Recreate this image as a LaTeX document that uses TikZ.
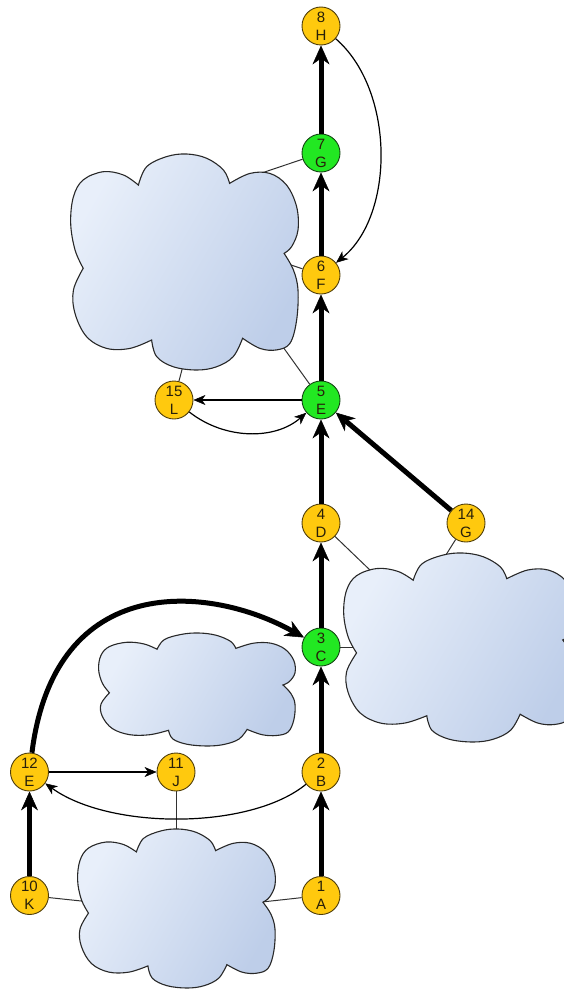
\documentclass[tikz,border=0pt]{standalone}
\usepackage{fontspec}
\setmainfont{Liberation Sans}
\usetikzlibrary{arrows.meta}
\definecolor{nodeY}{RGB}{255,201,14}
\definecolor{nodeYd}{RGB}{80,62,10}
\definecolor{nodeG}{RGB}{34,232,34}
\definecolor{nodeGd}{RGB}{20,70,20}
\definecolor{txtc}{RGB}{40,32,10}
\definecolor{cloudA}{RGB}{232,239,250}
\definecolor{cloudB}{RGB}{190,206,233}
\definecolor{cloudline}{RGB}{40,40,40}
\definecolor{linkc}{RGB}{50,50,50}
\newcommand{\ndfont}{\fontsize{15pt}{18pt}\selectfont}
\pgfdeclarelayer{bg}
\pgfsetlayers{bg,main}
\newcommand{\drawcloud}[4]{%
 \begin{scope}[shift={(#1,#2)},xscale=#3,yscale=#4]
  \path[cloudbody]
   plot[smooth,tension=0.6] coordinates {(0.058,0.529) (0.022,0.444) (0.003,0.321) (0.015,0.198) (0.058,0.120) (0.146,0.082) (0.234,0.097) (0.30,0.144)}
   -- plot[smooth,tension=0.6] coordinates {(0.30,0.144) (0.336,0.059) (0.424,0.012) (0.512,0.0) (0.60,0.02) (0.673,0.074) (0.70,0.136)}
   -- plot[smooth,tension=0.6] coordinates {(0.70,0.136) (0.789,0.09) (0.877,0.09) (0.95,0.144) (0.994,0.244) (1.0,0.352) (0.972,0.429) (0.939,0.46)}
   -- plot[smooth,tension=0.6] coordinates {(0.939,0.46) (0.98,0.537) (1.0,0.63) (0.994,0.769) (0.965,0.876) (0.906,0.907) (0.833,0.90) (0.757,0.853)}
   -- plot[smooth,tension=0.6] coordinates {(0.757,0.853) (0.716,0.938) (0.643,0.985) (0.556,1.0) (0.453,0.985) (0.38,0.938) (0.358,0.861)}
   -- plot[smooth,tension=0.6] coordinates {(0.358,0.861) (0.263,0.90) (0.161,0.90) (0.073,0.846) (0.022,0.738) (0.015,0.63) (0.058,0.529)}
   -- cycle;
 \end{scope}}
\begin{document}
\begin{tikzpicture}[x=1pt,y=-1pt,
  ynode/.style={circle,minimum size=38pt,inner sep=0pt,fill=nodeY,draw=nodeYd,line width=0.9pt,align=center,font=\ndfont,text=txtc},
  gnode/.style={ynode,fill=nodeG,draw=nodeGd},
  bigarrow/.style={line width=5pt,-{Stealth[length=19pt,width=17pt,inset=6pt,line width=0.5pt]}},
  smallarrow/.style={line width=1.2pt,-{Stealth[length=12pt,width=10pt,inset=3.5pt,line width=0.5pt]}},
  link/.style={line width=1pt,draw=linkc},
  cloudbody/.style={draw=cloudline,line width=1.1pt,top color=cloudA,bottom color=cloudB,shading angle=60}]
\useasboundingbox (0,0) rectangle (563,990);
% nodes
\node[ynode] (n8) at (321,26) {8\\H};
\node[gnode] (n7) at (321,153) {7\\G};
\node[ynode] (n6) at (321,275) {6\\F};
\node[gnode] (n5) at (321,400) {5\\E};
\node[ynode] (n15) at (174,400) {15\\L};
\node[ynode] (n4) at (321,523) {4\\D};
\node[ynode] (n14) at (466,523) {14\\G};
\node[gnode] (n3) at (321,647) {3\\C};
\node[ynode] (n12) at (29.5,772) {12\\E};
\node[ynode] (n11) at (176,772) {11\\J};
\node[ynode] (n2) at (321,772) {2\\B};
\node[ynode] (n10) at (29.5,895.5) {10\\K};
\node[ynode] (n1) at (321,895.5) {1\\A};
% cloud attachment points
\coordinate (c7) at (229,184);
\coordinate (c6) at (282,262);
\coordinate (c5) at (278,340);
\coordinate (c15) at (184,362);
\coordinate (c4) at (372,572);
\coordinate (c14) at (444,558);
\coordinate (c3) at (362,647);
\coordinate (c11) at (176,836);
\coordinate (c10) at (86,901.5);
\coordinate (c1) at (262,902);
\begin{pgfonlayer}{bg}
\draw[link] (n7) -- (c7);
\draw[link] (n6) -- (c6);
\draw[link] (n5) -- (c5);
\draw[link] (n15) -- (c15);
\draw[link] (n4) -- (c4);
\draw[link] (n14) -- (c14);
\draw[link] (n3) -- (c3);
\draw[link] (n11) -- (c11);
\draw[link] (n10) -- (c10);
\draw[link] (n1) -- (c1);
\drawcloud{70}{154}{228}{216}
\drawcloud{343}{553}{234}{189}
\drawcloud{98}{633}{197}{113}
\drawcloud{77}{829}{198}{159}
\end{pgfonlayer}
% thick arrows
\draw[bigarrow] (n1) -- (n2);
\draw[bigarrow] (n2) -- (n3);
\draw[bigarrow] (n3) -- (n4);
\draw[bigarrow] (n4) -- (n5);
\draw[bigarrow] (n5) -- (n6);
\draw[bigarrow] (n6) -- (n7);
\draw[bigarrow] (n7) -- (n8);
\draw[bigarrow] (n14) -- (n5);
\draw[bigarrow] (n10) -- (n12);
\draw[bigarrow] (n12) .. controls (55,570) and (210,585) .. (n3);
% thin arrows
\draw[smallarrow] (n12) -- (n11);
\draw[smallarrow] (n2) .. controls (250,830) and (110,830) .. (n12);
\draw[smallarrow] (n5) -- (n15);
\draw[smallarrow] (n15) .. controls (225,440) and (275,440) .. (n5);
\draw[smallarrow] (n8) .. controls (395,90) and (395,215) .. (n6);
\end{tikzpicture}
\end{document}
